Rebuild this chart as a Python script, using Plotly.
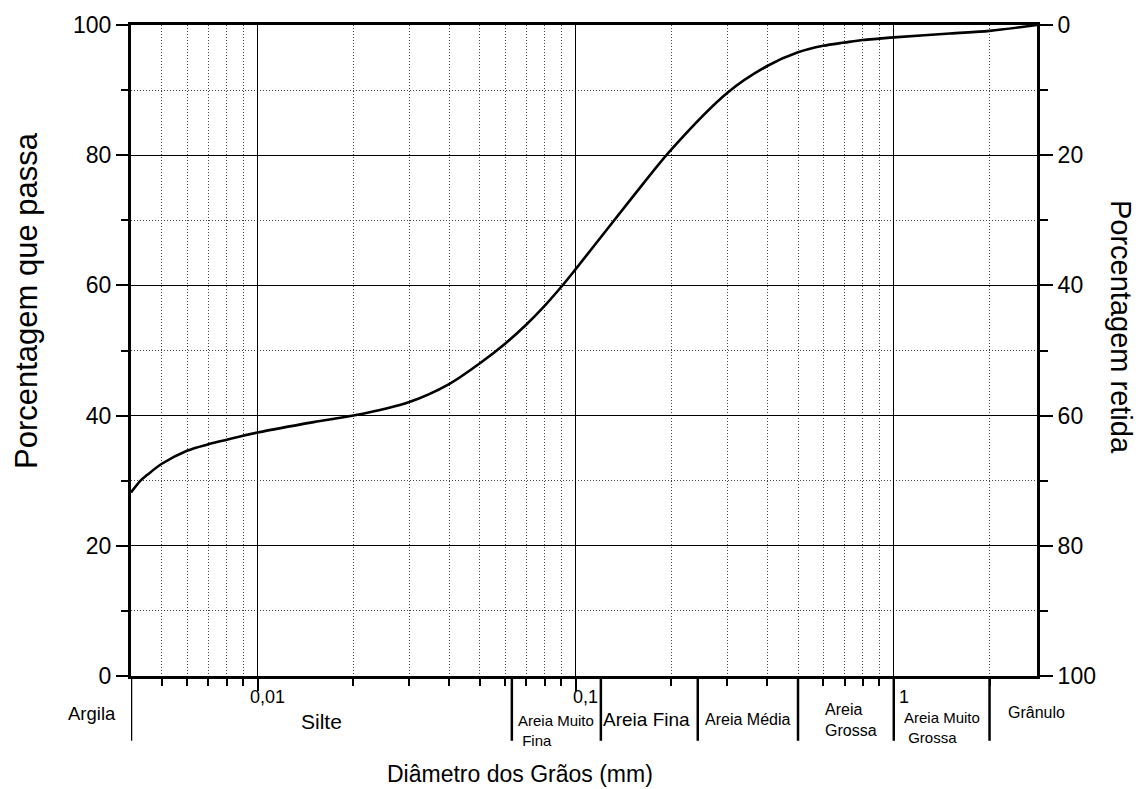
import numpy as np
import plotly.graph_objects as go

# ---------------- data ----------------
diametro_mm = [0.004, 0.0043, 0.0045, 0.005, 0.006, 0.007, 0.008, 0.01, 0.015, 0.02,
               0.03, 0.04, 0.05, 0.06, 0.07, 0.08, 0.09, 0.1, 0.15, 0.2,
               0.3, 0.4, 0.5, 0.6, 0.7, 0.8, 0.9, 1.0, 1.5, 2.0, 2.82]
passa_pct = [28.2, 30.1, 30.9, 32.6, 34.6, 35.6, 36.3, 37.4, 39.0, 40.0,
             42.1, 44.85, 48.05, 51.05, 54.0, 56.9, 59.75, 62.5, 73.4, 80.9,
             89.6, 93.7, 95.8, 96.8, 97.3, 97.7, 97.9, 98.1, 98.7, 99.1, 100.0]
retida_pct = [100 - p for p in passa_pct]

x_min, x_max = 0.004, 2.82
major_x = [0.01, 0.1, 1]
major_x_text = ["0,01", "0,1", "1"]
minor_x = [0.005, 0.006, 0.007, 0.008, 0.009,
           0.02, 0.03, 0.04, 0.05, 0.06, 0.07, 0.08, 0.09,
           0.2, 0.3, 0.4, 0.5, 0.6, 0.7, 0.8, 0.9, 2]
major_y = [0, 20, 40, 60, 80, 100]
minor_y = [10, 30, 50, 70, 90]

class_bounds = [0.004, 0.063, 0.12, 0.242, 0.5, 1, 2, 4]
class_names = ["Argila", "Silte", "Areia Muito<br>\u00a0Fina", "Areia Fina", "Areia Média",
               "Areia<br>Grossa", "Areia Muito<br>\u00a0Grossa", "Grânulo"]

FONT = "Liberation Sans, Arial, sans-serif"
DOT = "1px,2px"

fig = go.Figure()
fig.add_trace(go.Scatter(x=diametro_mm, y=passa_pct, mode="lines",
                         line=dict(color="black", width=2.6, shape="spline", smoothing=0.9),
                         showlegend=False, hoverinfo="x+y"))
fig.add_trace(go.Scatter(x=diametro_mm, y=retida_pct, mode="lines", yaxis="y2",
                         line=dict(color="black", width=0, shape="spline", smoothing=0.9),
                         showlegend=False, hoverinfo="x+y"))

fig.update_layout(
    width=1141, height=789,
    margin=dict(l=131, r=104, t=23, b=113),
    paper_bgcolor="white", plot_bgcolor="white",
    font=dict(family=FONT, color="black"),
    xaxis=dict(type="log", range=[np.log10(x_min), np.log10(x_max)],
               tickmode="array", tickvals=major_x, showticklabels=False,
               ticks="outside", ticklen=12, tickwidth=1.5, tickcolor="black",
               showgrid=True, gridcolor="black", gridwidth=1,
               minor=dict(tickmode="array", tickvals=minor_x, ticks="outside", ticklen=7,
                          tickwidth=2, tickcolor="black", showgrid=True,
                          gridcolor="#444444", griddash=DOT, gridwidth=1),
               showline=True, linecolor="black", linewidth=3, mirror=True, zeroline=False),
    yaxis=dict(range=[0, 100], tickmode="array", tickvals=major_y,
               ticks="outside", ticklen=12, tickwidth=2, tickcolor="black",
               tickfont=dict(size=23),
               showgrid=True, gridcolor="black", gridwidth=1,
               minor=dict(tickmode="array", tickvals=minor_y, ticks="outside", ticklen=7,
                          tickwidth=2, tickcolor="black", showgrid=True,
                          gridcolor="#444444", griddash=DOT, gridwidth=1),
               showline=True, linecolor="black", linewidth=3, zeroline=False),
    yaxis2=dict(overlaying="y", side="right", range=[100, 0], tickmode="array",
                tickvals=major_y, ticks="outside", ticklen=13, tickwidth=2, tickcolor="black",
                tickfont=dict(size=23), showgrid=False,
                minor=dict(tickmode="array", tickvals=minor_y, ticks="outside", ticklen=8,
                           tickwidth=2, tickcolor="black", showgrid=False),
                showline=True, linecolor="black", linewidth=3, zeroline=False),
)

# class boundary lines below the axis
for b in class_bounds[:-1]:
    fig.add_shape(type="line", xref="x", yref="paper", x0=b, x1=b, y0=0, y1=-0.0995,
                  line=dict(color="black", width=2.5))

ann = []
# x tick labels
for v, t in zip(major_x, major_x_text):
    ann.append(dict(x=np.log10(v), y=0, xref="x", yref="paper", text=t, showarrow=False,
                    xanchor="center", yanchor="middle", xshift=10, yshift=-21,
                    font=dict(size=18)))

# class labels: (font size, xshift, yshift)
label_style = [(18.5, 0, -37), (21, 0, -45), (15, 0, -54), (19, -3, -43),
               (16, 0, -43), (16, 5, -44), (15, 0, -51), (16, 0, -36)]
for i, name in enumerate(class_names):
    size, xs, ys = label_style[i]
    if i == 0:
        ann.append(dict(x=0, y=0, xref="paper", yref="paper", text=name, showarrow=False,
                        xanchor="right", yanchor="middle", xshift=-13, yshift=ys,
                        font=dict(size=size)))
    else:
        c = np.sqrt(class_bounds[i - 1] * class_bounds[i])
        c = min(c, x_max * 0.999)  # keep label anchor inside the axis range
        ann.append(dict(x=np.log10(c), y=0, xref="x", yref="paper", text=name, showarrow=False,
                        xanchor="center", yanchor="middle", align="left", xshift=xs, yshift=ys,
                        font=dict(size=size)))

# axis titles
ann.append(dict(x=0.4297, y=0, xref="paper", yref="paper", text="Diâmetro dos Grãos (mm)",
                showarrow=False, xanchor="center", yanchor="middle", yshift=-98,
                font=dict(size=23)))
ann.append(dict(x=0, y=(675.7 - 300) / 652.2, xref="paper", yref="paper",
                text="Porcentagem que passa", textangle=-90, showarrow=False,
                xanchor="center", yanchor="middle", xshift=-104, font=dict(size=31)))
ann.append(dict(x=1, y=(675.7 - 326) / 652.2, xref="paper", yref="paper",
                text="Porcentagem retida", textangle=90, showarrow=False,
                xanchor="center", yanchor="middle", xshift=84, font=dict(size=29)))
fig.update_layout(annotations=ann)

fig.write_html("out.html")
